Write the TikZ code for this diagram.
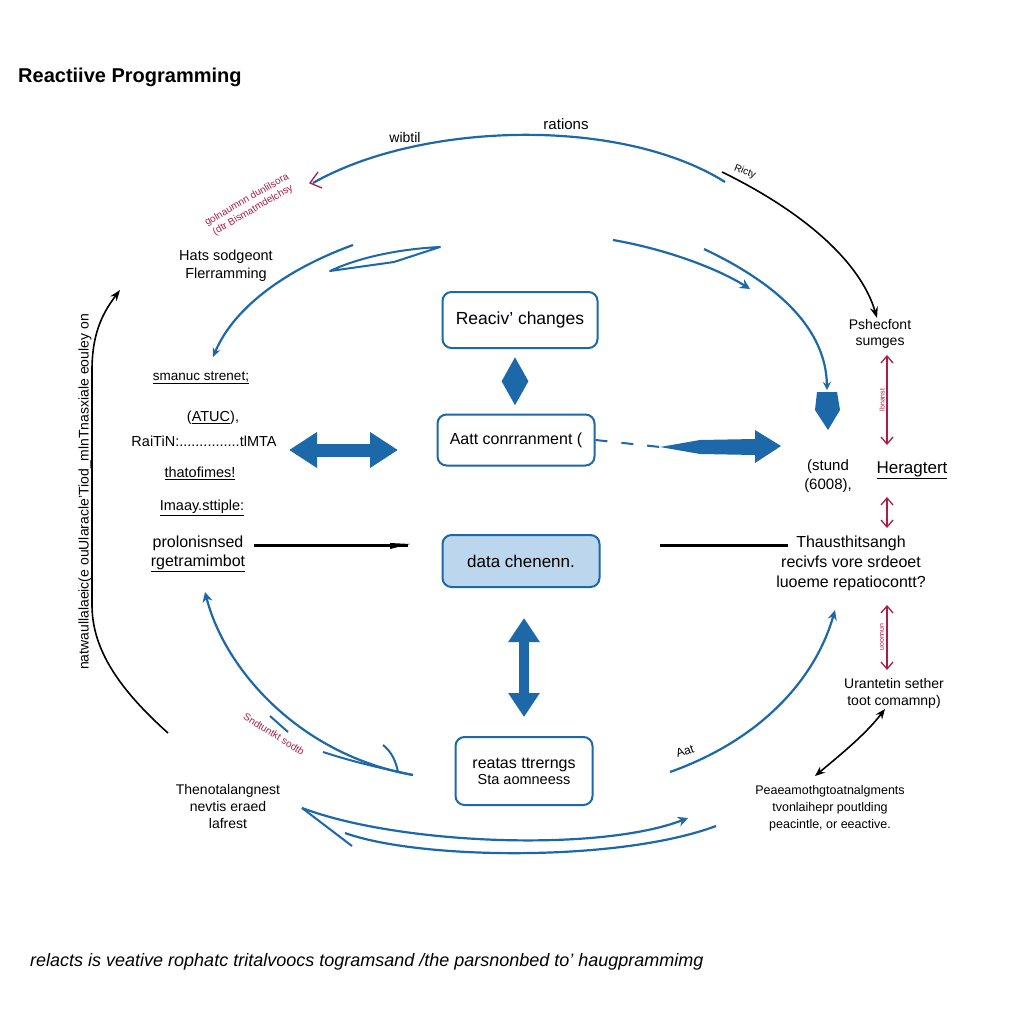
\documentclass[tikz,border=0pt]{standalone}
\usepackage{fontspec}
\setmainfont{Liberation Sans}
\usetikzlibrary{arrows.meta,shapes.geometric,calc}
\definecolor{rblue}{RGB}{28,104,168}
\definecolor{rfill}{RGB}{188,214,238}
\definecolor{rred}{RGB}{170,30,70}
\newcommand{\fsz}[1]{\fontsize{#1}{#1}\selectfont}
\begin{document}
\begin{tikzpicture}[x=1pt,y=-1pt,
  box/.style={draw=rblue,line width=2pt,rounded corners=9pt,fill=white,align=center,font=\fontsize{17.5}{19}\selectfont},
  lbl/.style={font=\fontsize{12.5}{17}\selectfont,align=center,inner sep=1pt},
  small/.style={font=\fontsize{10}{11}\selectfont,inner sep=1pt},
  redtxt/.style={font=\fontsize{10}{12}\selectfont,text=rred,inner sep=0pt,align=center},
  bluearc/.style={draw=rblue,line width=2.2pt},
  blackarc/.style={draw=black,line width=1.6pt},
  redarr/.style={draw=rred,line width=1.3pt,{Straight Barb[length=7pt,width=12pt]}-{Straight Barb[length=7pt,width=12pt]}},
  blk/.style={fill=rblue,draw=none}]
\useasboundingbox (0,0) rectangle (1024,1024);
\fill[white] (0,0) rectangle (1024,1024);

% title and caption
\node[anchor=west,font=\bfseries\fontsize{20}{22}\selectfont,inner sep=0pt] (title) at (18,77) {Reactiive Programming};
\node[anchor=west,font=\itshape\fontsize{18}{20}\selectfont,inner sep=0pt] (caption) at (30,962) {relacts is veative rophatc tritalvoocs togramsand /the parsnonbed to' haugprammimg};

% top labels
\node[lbl,font=\fsz{14}] (wib) at (405,137) {wibtil};
\node[lbl,font=\fsz{15}] (rat) at (566,124) {rations};
\node[small,rotate=-22] (ricty) at (745,172) {Ricty};

% central boxes
\node[box,minimum width=155pt,minimum height=56pt] (b1) at (520,320) {Reaciv' changes};
\node[box,minimum width=157pt,minimum height=51pt,font=\fsz{16}] (b2) at (516,440) {Aatt conrranment (};
\node[box,fill=rfill,minimum width=157pt,minimum height=52pt,font=\fsz{17}] (b3) at (521,561) {data chenenn.};
\node[box,minimum width=137pt,minimum height=68pt,font=\fontsize{16}{17}\selectfont] (b4) at (524,771) {reatas ttrerngs\\[-1pt]{\fsz{14.5}Sta aomneess}};

% diamond between b1 and b2
\node[diamond,blk,minimum width=27pt,minimum height=48pt,inner sep=0pt] (dia) at ($(b1.south)!0.5!(b2.north)+(-3,0)$) {};

% vertical double arrow between b3 and b4
\draw[rblue,line width=10pt,{Triangle[width=30pt,length=24pt]}-{Triangle[width=30pt,length=24pt]},shorten <=30pt,shorten >=19pt] ($(b3.south)+(3,0)$) -- (b4.north);

% left text column
\node[lbl,font=\fontsize{14.5}{18}\selectfont] (hats) at (226,266) {Hats sodgeont\\Flerramming};
\node[lbl,font=\fsz{13.5}] (sman) at (201,378) {\underline{smanuc strenet;}};
\node[lbl,font=\fsz{14.5}] (atuc) at (213,418) {(\underline{ATUC}),};
\node[lbl,font=\fsz{14.5}] (rait) at (204,441) {RaiTiN:...............tlMTA};
\node[lbl,font=\fsz{14.5}] (that) at (200,473) {\underline{thatofimes!}};
\node[lbl,font=\fsz{14.5}] (imaa) at (202,508) {\underline{Imaay.sttiple:}};
\node[lbl,font=\fsz{16}] (prol) at (198,543) {prolonisnsed};
\node[lbl,font=\fsz{16}] (rget) at (198,563) {\underline{rgetramimbot}};
\node[lbl,font=\fontsize{14}{17}\selectfont] (then) at (228,806) {Thenotalangnest\\nevtis eraed\\lafrest};

% left horizontal double arrow
\coordinate (hl1) at (289,450);
\coordinate (hl2) at (398,450);
\draw[rblue,line width=13pt,{Triangle[width=34pt,length=28pt]}-{Triangle[width=34pt,length=28pt]}] (hl1) -- (hl2);

% left black line
\coordinate (bl1) at (254,545);
\coordinate (bl2) at (408,545);
\draw[line width=3pt] (bl1) -- (bl2);
\fill (390,543) -- (410,544) -- (390,549) -- cycle;

% dashed connector and big right arrow
\coordinate (dsh) at (660,447);
\draw[rblue,line width=2pt,dash pattern=on 12pt off 14pt] (b2.east) -- (dsh);
\fill[rblue] (dsh) -- (700,440) -- (755,439) -- (755,430) -- (781,446) -- (755,463) -- (755,455) -- (700,454) -- cycle;

% right pentagon
\coordinate (pentop) at (827,390);
\fill[rblue] (817,392) -- (837,392) -- (840,410) -- (828,430) -- (815,410) -- cycle;

% top arc and black continuation
\coordinate (ta1) at (313,183);
\coordinate (ta2) at (725,182);
\draw[bluearc] (ta1) .. controls (420,122) and (620,116) .. (ta2);
\draw[rred,line width=1.3pt] (318,172) -- (310,183) -- (322,188);
\node[lbl,font=\fontsize{14}{16}\selectfont] (pshe) at (880,334) {Pshecfont\\sumges};
\coordinate (bk2) at (877,318);
\draw[blackarc,-{Stealth[length=11pt,width=8pt]}] (722,172) .. controls (800,210) and (860,260) .. (bk2);

% red rotated text top left
\node[redtxt,rotate=30] (redtl) at (250,205) {golnaumnn dunlilsora\\(dtr Bismatmdelchsy};

% left upper arc and leaf
\coordinate (la1) at (353,245);
\draw[bluearc,-{Stealth[length=9pt,width=8pt]}] (la1) .. controls (290,268) and (235,305) .. (213,357);
\draw[rblue,line width=2pt,line join=round] (330,271) .. controls (360,257) and (400,249) .. (440,247) -- (394,262) -- cycle;

% right upper arcs
\draw[bluearc,-{Stealth[length=10pt,width=10pt]}] (613,240) .. controls (670,250) and (720,270) .. (750,289);
\draw[bluearc,-{Stealth[length=8pt,width=8pt]}] (704,249) .. controls (780,285) and (826,330) .. (pentop);

% right column texts
\node[lbl,font=\fontsize{15}{19}\selectfont] (stun) at (828,476) {(stund\\(6008),};
\node[lbl,font=\fsz{17}] (hera) at (912,470) {\underline{Heragtert}};
\node[lbl,font=\fontsize{16}{20}\selectfont] (thau) at (851,563) {Thausthitsangh\\recivfs vore srdeoet\\luoeme repatiocontt?};
\node[lbl,font=\fontsize{14}{17}\selectfont] (uran) at (894,693) {Urantetin sether\\toot comamnp)};
\node[lbl] (peae) at (830,808) {Peaeamothgtoatnalgments\\tvonlaihepr poutlding\\peacintle, or eeactive.};

% red double arrows
\coordinate (r1a) at (887,355); \coordinate (r1b) at (887,445);
\draw[redarr] (r1a) -- (r1b);
\node[redtxt,rotate=90,font=\fontsize{7}{8}\selectfont] (r1t) at (882,400) {lbnanst};
\coordinate (r2a) at (887,497); \coordinate (r2b) at (887,528);
\draw[redarr] (r2a) -- (r2b);
\coordinate (r3a) at (887,605); \coordinate (r3b) at (887,670);
\draw[redarr] (r3a) -- (r3b);
\node[redtxt,rotate=90,font=\fontsize{7}{8}\selectfont] (r3t) at (882,637) {uoonnun};

% right black line
\coordinate (rl1) at (660,545);
\coordinate (rl2) at (788,545);
\draw[line width=3pt] (rl1) -- (rl2);

% right lower arc
\coordinate (rb1) at (670,772);
\coordinate (rb2) at (835,610);
\draw[bluearc,-{Stealth[length=10pt,width=9pt]}] (rb1) .. controls (760,740) and (815,680) .. (rb2);
\node[small,rotate=18,font=\fontsize{12}{13}\selectfont] (aat) at (685,751) {Aat};

% black double arrow right bottom
\coordinate (bd1) at (815,776);
\coordinate (bd2) at (885,709);
\draw[blackarc,{Stealth[length=10pt,width=8pt]}-{Stealth[length=10pt,width=8pt]}] (bd1) .. controls (840,755) and (865,735) .. (bd2);

% left lower arc
\coordinate (lb1) at (413,775);
\coordinate (lb2) at (205,592);
\draw[bluearc,-{Stealth[length=10pt,width=10pt]}] (lb1) .. controls (300,755) and (225,670) .. (lb2);
\draw[rblue,line width=2pt] (270,716) -- (288,732);
\draw[rblue,line width=2pt] (323,752) .. controls (360,764) and (390,770) .. (413,775);
\draw[rblue,line width=2pt] (383,745) .. controls (392,752) and (396,762) .. (398,772);
\node[redtxt,rotate=-32] (redbl) at (274,734) {Sndtuntkt sodtb};

% bottom arc
\coordinate (bt1) at (302,808);
\coordinate (bt2) at (688,818);
\draw[bluearc,-{Stealth[length=10pt,width=10pt]}] (bt1) .. controls (400,845) and (600,852) .. (bt2);
\draw[bluearc] (345,833) .. controls (420,860) and (620,862) .. (716,826);
\draw[rblue,line width=2pt] (bt1) -- (352,846);

% left big black arc with text
\coordinate (lk1) at (168,733);
\coordinate (lk2) at (120,290);
\draw[blackarc,-{Stealth[length=11pt,width=8pt]}] (lk1) .. controls (120,690) and (92,650) .. (92,605) -- (92,370) .. controls (92,330) and (105,310) .. (lk2);
\node[rotate=90,font=\fontsize{14}{15}\selectfont,inner sep=0pt] (lktxt) at (85,492) {natwaullalaeic(e ouUlaracle'Tiod\_mlnTnasxiale eouley on};
\end{tikzpicture}
\end{document}
